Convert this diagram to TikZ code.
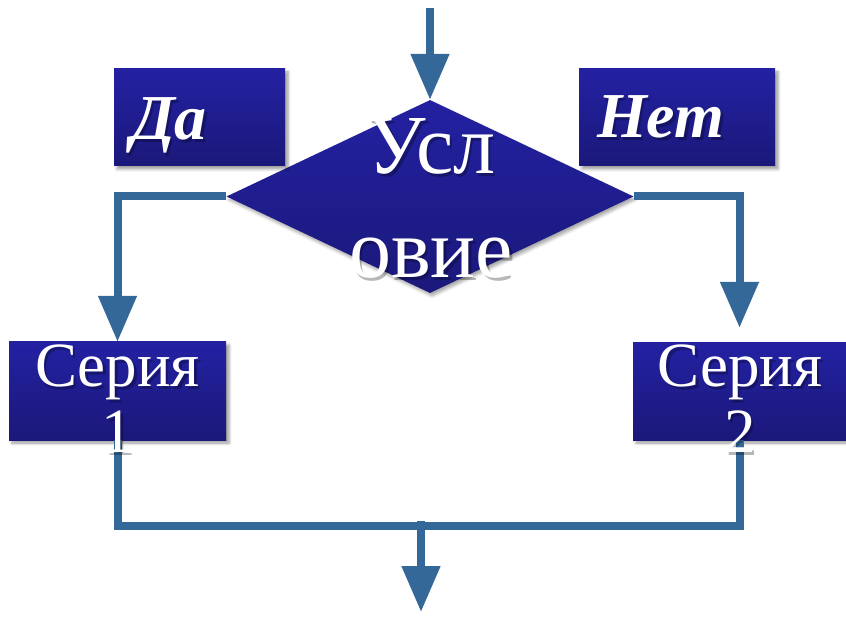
\documentclass[tikz,border=0pt]{standalone}
\usepackage{fontspec}
\setmainfont{Liberation Serif}
\usetikzlibrary{shapes.geometric,arrows.meta,shadows.blur}
\definecolor{boxtop}{RGB}{35,33,162}
\definecolor{boxbot}{RGB}{27,24,122}
\definecolor{flow}{RGB}{52,104,152}
% #1 name, #2 coordinate, #3 anchor, #4 font, #5 text
\newcommand{\ShText}[5]{%
  \node[text=black, text opacity=0.28, inner sep=0pt, align=center, font=#4, anchor=#3]
      (#1sh) at ([xshift=2.5pt,yshift=-3pt]#2) {#5};%
  \node[text=white, inner sep=0pt, align=center, font=#4, anchor=#3] (#1) at (#2) {#5};}
\begin{document}
\begin{tikzpicture}[x=1pt,y=-1pt,
  blk/.style={rectangle, inner sep=0pt, top color=boxtop, bottom color=boxbot,
    blur shadow={shadow xshift=3pt,shadow yshift=-3pt,shadow blur radius=3pt,shadow opacity=40}},
  condbox/.style={diamond, inner sep=0pt, minimum width=407pt, minimum height=193pt,
    top color=boxtop, bottom color=boxbot,
    blur shadow={shadow xshift=2pt,shadow yshift=-3pt,shadow blur radius=3pt,shadow opacity=35}},
  flowline/.style={draw=flow, line width=8pt, line join=miter},
  arr/.style={-{Triangle[length=46pt,width=37pt]}},
]
\useasboundingbox (0,0) rectangle (846,617);
% shapes
\node[condbox] (c) at (430,196.5) {};
\node[blk, minimum width=171pt, minimum height=97pt] (da) at (199.5,117.5) {};
\node[blk, minimum width=196pt, minimum height=97pt] (net) at (677,117.5) {};
\node[blk, minimum width=217pt, minimum height=98pt] (s1) at (117.5,391) {};
\node[blk, minimum width=213pt, minimum height=97pt] (s2) at (739.5,391.5) {};
% connectors
\coordinate (in) at (430,8);
\coordinate (j) at (421,526);
\coordinate (out) at (421,612);
\draw[flowline, arr] (in) -- (c.north);
\draw[flowline, arr] (c.west) -| (s1.north);
\draw[flowline, arr] (c.east) -| ([yshift=15pt]s2.north);
\draw[flowline] (s1.south) |- (j) -| (s2.south);
\draw[flowline, arr] ([yshift=5pt]j) -- (out);
% texts
\coordinate (ctpos) at (431,278);
\coordinate (dapos) at (131,140);
\coordinate (netpos) at (597,138);
\coordinate (s1pos) at (117.5,452);
\coordinate (s2pos) at (740,452);
\ShText{ct}{ctpos}{base}{\fontsize{84}{104}\selectfont}{Усл\\овие}
\ShText{dat}{dapos}{base west}{\fontsize{64}{64}\bfseries\itshape\selectfont}{Да}
\ShText{nett}{netpos}{base west}{\fontsize{64}{64}\bfseries\itshape\selectfont}{Нет}
\ShText{sa}{s1pos}{base}{\fontsize{63}{66}\selectfont}{Серия\\1}
\ShText{sb}{s2pos}{base}{\fontsize{63}{66}\selectfont}{Серия\\2}
\end{tikzpicture}
\end{document}
